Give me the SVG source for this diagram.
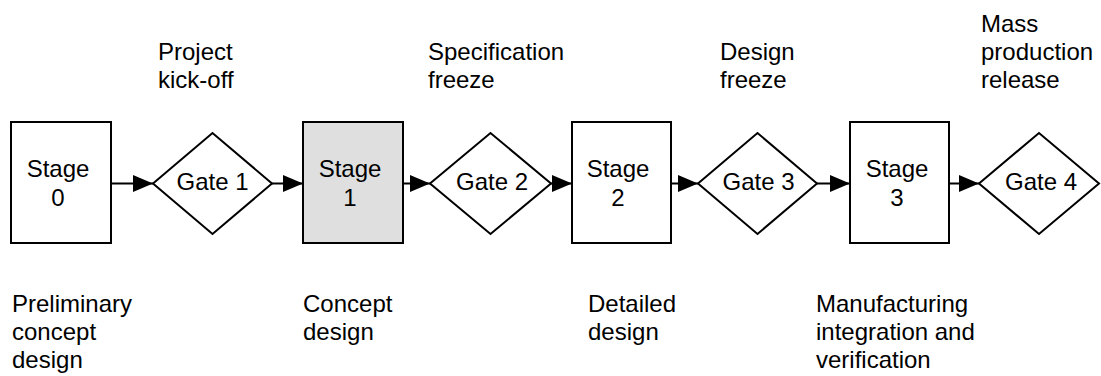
<svg xmlns="http://www.w3.org/2000/svg" width="1101" height="376" viewBox="0 0 1101 376">
<defs>
<style>
.box{fill:#ffffff;stroke:#000;stroke-width:2}
.hl{fill:#dfdfdf}
.gate{fill:#ffffff;stroke:#000;stroke-width:2}
.con{stroke:#000;stroke-width:2;fill:none;marker-end:url(#arr)}
text{font-family:"Liberation Sans",Arial,sans-serif;font-size:24px;fill:#000}
.c{text-anchor:middle}
</style>
<marker id="arr" markerUnits="userSpaceOnUse" markerWidth="20" markerHeight="18" refX="20" refY="9" orient="auto">
<path d="M0,0.5 L20,9 L0,17.5 z" fill="#000"/>
</marker>
</defs>
<rect width="1101" height="376" fill="#fff"/>
<g id="connectors">
<line class="con" x1="111" y1="183.5" x2="153" y2="183.5"/>
<line class="con" x1="272" y1="183.5" x2="303" y2="183.5"/>
<line class="con" x1="403" y1="183.5" x2="430" y2="183.5"/>
<line class="con" x1="551" y1="183.5" x2="572" y2="183.5"/>
<line class="con" x1="671" y1="183.5" x2="698" y2="183.5"/>
<line class="con" x1="817" y1="183.5" x2="850" y2="183.5"/>
<line class="con" x1="949" y1="183.5" x2="979" y2="183.5"/>
</g>
<g id="stage0">
<rect class="box" x="11" y="122" width="100" height="121"/>
<text class="c" x="58" y="177">Stage</text>
<text class="c" x="58" y="206">0</text>
</g>
<g id="gate1">
<polygon class="gate" points="153,183.5 212.5,133 272,183.5 212.5,234"/>
<text class="c" x="212.5" y="190">Gate 1</text>
</g>
<g id="stage1">
<rect class="box hl" x="303" y="122" width="100" height="121"/>
<text class="c" x="350" y="177">Stage</text>
<text class="c" x="350" y="206">1</text>
</g>
<g id="gate2">
<polygon class="gate" points="430,183.5 490.5,133 551,183.5 490.5,234"/>
<text class="c" x="492" y="190">Gate 2</text>
</g>
<g id="stage2">
<rect class="box" x="572" y="122" width="99" height="121"/>
<text class="c" x="618" y="177">Stage</text>
<text class="c" x="618" y="206">2</text>
</g>
<g id="gate3">
<polygon class="gate" points="698,183.5 757.5,133 817,183.5 757.5,234"/>
<text class="c" x="758.5" y="190">Gate 3</text>
</g>
<g id="stage3">
<rect class="box" x="850" y="122" width="99" height="121"/>
<text class="c" x="897" y="177">Stage</text>
<text class="c" x="897" y="206">3</text>
</g>
<g id="gate4">
<polygon class="gate" points="979,183.5 1039,133 1099,183.5 1039,234"/>
<text class="c" x="1041" y="190">Gate 4</text>
</g>
<g id="milestone-labels">
<text x="158" y="60">Project</text>
<text x="158" y="88">kick-off</text>
<text x="428" y="60">Specification</text>
<text x="428" y="88">freeze</text>
<text x="720" y="60">Design</text>
<text x="720" y="88">freeze</text>
<text x="981" y="32">Mass</text>
<text x="981" y="60">production</text>
<text x="981" y="88">release</text>
</g>
<g id="stage-labels">
<text x="12" y="312">Preliminary</text>
<text x="12" y="340">concept</text>
<text x="12" y="368">design</text>
<text x="303" y="312">Concept</text>
<text x="303" y="340">design</text>
<text x="588" y="312">Detailed</text>
<text x="588" y="340">design</text>
<text x="816" y="312">Manufacturing</text>
<text x="816" y="340">integration and</text>
<text x="816" y="368">verification</text>
</g>
</svg>
